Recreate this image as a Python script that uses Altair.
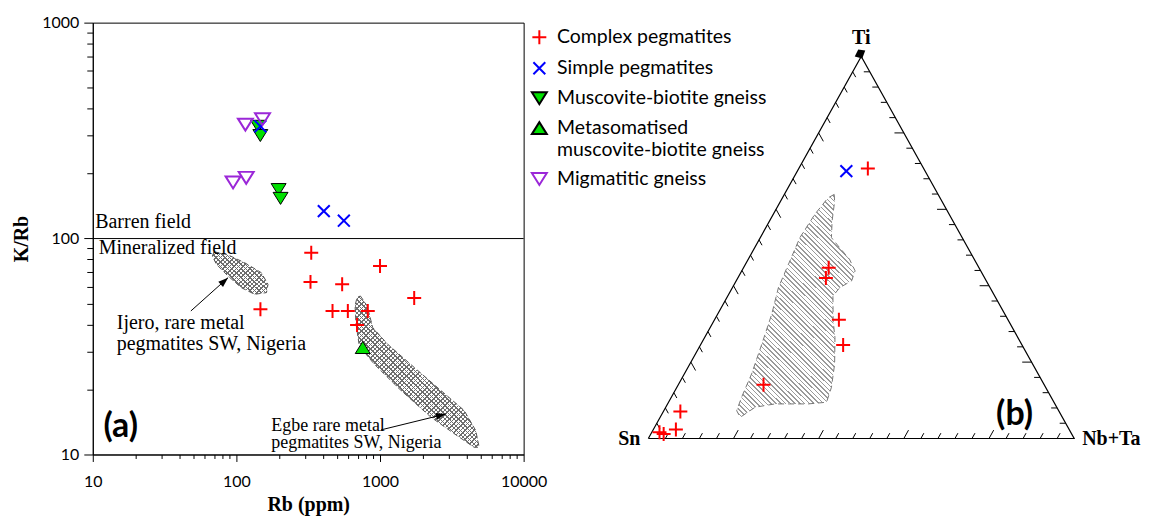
import altair as alt
import pandas as pd

# ---------------- categories ----------------
groups = ["Complex pegmatites", "Simple pegmatites", "Muscovite-biotite gneiss",
          "Metasomatised muscovite-biotite gneiss", "Migmatitic gneiss"]

# ---------------- panel (a): Rb vs K/Rb ----------------
complex_rb = [332, 328, 545, 1000, 1730, 147, 467, 597, 822, 692]
complex_krb = [86, 63, 61.4, 74.6, 53, 47.1, 46.2, 46.2, 46.2, 39.8]
simple_rb = [147, 406, 560]
simple_krb = [331, 134, 121]
musc_rb = [141.6, 146.8, 196.8, 203]
musc_krb = [331, 300, 168.6, 153.5]
meta_rb = [758]
meta_krb = [31.3]
migm_rb = [115.5, 152, 94.8, 117]
migm_krb = [337, 357, 182, 191]

# fields (outlines)
ijero_rb = [70, 87.5, 114, 149, 166, 162, 134, 108, 87.5, 72.6, 68]
ijero_krb = [86.9, 84, 77.3, 69.5, 61.4, 56.2, 55.2, 59.3, 67.1, 76, 83]
egbe_rb = [730, 813, 890, 1130, 1730, 2650, 3850, 4640, 4900, 4520, 3280, 2260, 1400, 912, 718, 681, 670, 692]
egbe_krb = [54.2, 48.8, 38.7, 32.4, 25.3, 19.8, 16, 12.9, 10.8, 10.8, 12.5, 14.9, 19.8, 26.2, 31.8, 40.2, 48.8, 53.3]

# annotations
ann_text = ["Barren field", "Mineralized field", "Ijero, rare metal", "pegmatites SW, Nigeria"]
ann_rb = [10.4, 11.0, 14.7, 14.7]
ann_krb = [112, 85.2, 38.2, 30.45]
egbe_text = ["Egbe rare metal", "pegmatites SW, Nigeria"]
egbe_text_rb = [175, 175]
egbe_text_krb = [12.9, 10.66]
arrow_id = ["ijero", "ijero", "egbe", "egbe"]
arrow_rb = [48.2, 87.5, 1016, 2872]
arrow_krb = [46.2, 65.9, 13.0, 15.4]
arrow_angle = [48, 76]

x_ticks_a = [m * 10 ** e for e in (1, 2, 3) for m in range(1, 10)] + [10000]
y_ticks_a = [m * 10 ** e for e in (1, 2) for m in range(1, 10)] + [1000]

# ---------------- panel (b): Sn - (Nb+Ta) - Ti ternary ----------------
tern_group = ["Simple pegmatites"] + ["Complex pegmatites"] * 10
tern_sn = [0.185, 0.131, 0.353, 0.373, 0.397, 0.420, 0.659, 0.890, 0.924, 0.966, 0.958]
tern_nbta = [0.115, 0.162, 0.200, 0.207, 0.292, 0.335, 0.200, 0.040, 0.053, 0.018, 0.030]
tern_ti = [0.700, 0.707, 0.447, 0.420, 0.311, 0.245, 0.141, 0.0705, 0.0235, 0.0165, 0.012]

region_nbta = [0.117, 0.127, 0.147, 0.167, 0.194, 0.238, 0.266, 0.271, 0.252, 0.247, 0.280, 0.306,
               0.340, 0.363, 0.371, 0.330, 0.252, 0.210, 0.188, 0.171, 0.165, 0.158, 0.143, 0.127,
               0.108, 0.101, 0.093, 0.0975, 0.107]
region_ti = [0.639, 0.621, 0.569, 0.526, 0.504, 0.469, 0.439, 0.413, 0.395, 0.373, 0.308, 0.2645,
             0.195, 0.134, 0.095, 0.0906, 0.0906, 0.082, 0.0556, 0.073, 0.108, 0.169, 0.247, 0.326,
             0.395, 0.456, 0.526, 0.587, 0.630]

# ---------------- styles ----------------
PLUS = "M-1,0H1M0,-1V1"
XMARK = "M-0.85,-0.85L0.85,0.85M-0.85,0.85L0.85,-0.85"
TDOWN = "M-1.07,-0.86L1.07,-0.86L0,0.86Z"
TUP = "M-1.07,0.86L1.07,0.86L0,-0.86Z"
ARROW = "M0,0L-0.7,2L0.7,2Z"
SERIF = "Liberation Serif"
SANS = "Lato"

shape_scale = alt.Scale(domain=groups, range=[PLUS, XMARK, TDOWN, TUP, TDOWN])
stroke_scale = alt.Scale(domain=groups, range=["#ff0000", "#0000ff", "#000000", "#000000", "#9b27d8"])
fill_scale = alt.Scale(domain=groups, range=["transparent", "transparent", "#00e000", "#00e000", "transparent"])

legend = alt.Legend(
    title=None, orient="none", legendX=438, legendY=5, direction="vertical",
    labelFont=SANS, labelFontSize=19.5, labelColor="black", labelLimit=400,
    symbolSize=196, symbolStrokeWidth=2, rowPadding=9, labelOffset=8,
    labelExpr="datum.label == 'Metasomatised muscovite-biotite gneiss' ? ['Metasomatised', 'muscovite-biotite gneiss'] : datum.label",
)


def stripes(n, frac, color, x1, y1, x2, y2):
    stops = []
    clear = "rgba(255,255,255,0)"
    for i in range(n):
        a = i / n
        b = (i + frac) / n
        stops += [{"offset": a, "color": color}, {"offset": b, "color": color},
                  {"offset": b, "color": clear}, {"offset": (i + 1) / n, "color": clear}]
    return {"gradient": "linear", "x1": x1, "y1": y1, "x2": x2, "y2": y2, "stops": stops}


# ---------------- panel (a) chart ----------------
pts_a = pd.DataFrame({
    "Rb": complex_rb + simple_rb + musc_rb + meta_rb + migm_rb,
    "KRb": complex_krb + simple_krb + musc_krb + meta_krb + migm_krb,
    "group": [groups[0]] * len(complex_rb) + [groups[1]] * len(simple_rb) + [groups[2]] * len(musc_rb)
             + [groups[3]] * len(meta_rb) + [groups[4]] * len(migm_rb),
})

xs = alt.Scale(type="log", domain=[10, 10000], nice=False)
ys = alt.Scale(type="log", domain=[10, 1000], nice=False)
major_x = "datum.value == 10 || datum.value == 100 || datum.value == 1000 || datum.value == 10000"
x_axis = alt.Axis(values=x_ticks_a, labelExpr="(" + major_x + ") ? datum.value : ''",
                  tickSize={"condition": {"test": major_x, "value": 7}, "value": 4},
                  labelPadding=12, labelFlush=False, labelOverlap=False, titlePadding=5,
                  grid=False, orient="bottom")
y_axis = alt.Axis(values=y_ticks_a, labelExpr="(" + major_x + ") ? datum.value : ''",
                  tickSize={"condition": {"test": major_x, "value": 9}, "value": 6},
                  labelPadding=5, labelFlush=False, labelOverlap=False, titlePadding=10,
                  grid=False, orient="left")
X = alt.X("Rb:Q", scale=xs, axis=x_axis, title="Rb (ppm)")
Y = alt.Y("KRb:Q", scale=ys, axis=y_axis, title="K/Rb")

hline = alt.Chart(pd.DataFrame({"Rb": [10], "Rb2": [10000], "KRb": [100]})).mark_rule(
    color="black", strokeWidth=1).encode(x=X, x2="Rb2:Q", y=Y)


def field_layers(rb, krb, w, h, n):
    df = pd.DataFrame({"Rb": rb, "KRb": krb, "i": list(range(len(rb)))})
    k = (w + h) / (w * w + h * h)
    g1 = stripes(n, 0.32, "#6e6e6e", 0, 0, w * k, h * k)
    g2 = stripes(n, 0.32, "#6e6e6e", 0, 1, w * k, 1 - h * k)
    base = alt.Chart(df).encode(x=X, y=Y, order="i:Q")
    l1 = base.mark_line(interpolate="linear-closed", fill=g1, strokeOpacity=0)
    l2 = base.mark_line(interpolate="linear-closed", fill=g2, stroke="#555555", strokeWidth=1,
                        strokeDash=[5, 3])
    return [l1, l2]


ijero_layers = field_layers(ijero_rb, ijero_krb, 56, 44, 22)
egbe_layers = field_layers(egbe_rb, egbe_krb, 125, 152, 61)

enc_pts = dict(
    shape=alt.Shape("group:N", scale=shape_scale, legend=legend),
    stroke=alt.Stroke("group:N", scale=stroke_scale, legend=legend),
    fill=alt.Fill("group:N", scale=fill_scale, legend=legend),
)
open_pts = alt.Chart(pts_a).transform_filter(
    alt.FieldOneOfPredicate(field="group", oneOf=[groups[0], groups[1], groups[4]])
).mark_point(size=196, opacity=1, fillOpacity=1, strokeWidth=2).encode(x=X, y=Y, **enc_pts)
filled_pts = alt.Chart(pts_a).transform_filter(
    alt.FieldOneOfPredicate(field="group", oneOf=[groups[2], groups[3]])
).mark_point(size=196, opacity=1, fillOpacity=1, strokeWidth=1).encode(x=X, y=Y, **enc_pts)

ann = alt.Chart(pd.DataFrame({"Rb": ann_rb, "KRb": ann_krb, "t": ann_text})).mark_text(
    font=SERIF, fontSize=20, align="left", baseline="alphabetic", color="black").encode(x=X, y=Y, text="t:N")
ann_egbe = alt.Chart(pd.DataFrame({"Rb": egbe_text_rb, "KRb": egbe_text_krb, "t": egbe_text})).mark_text(
    font=SERIF, fontSize=18, align="left", baseline="alphabetic", color="black").encode(x=X, y=Y, text="t:N")
label_a = alt.Chart(pd.DataFrame({"Rb": [11.86], "KRb": [12.1], "t": ["(a)"]})).mark_text(
    font=SANS, fontSize=34, fontWeight="bold", align="left", baseline="alphabetic", color="black"
).encode(x=X, y=Y, text="t:N")

arr_df = pd.DataFrame({"Rb": arrow_rb, "KRb": arrow_krb, "id": arrow_id, "i": [0, 1, 0, 1]})
arr_lines = alt.Chart(arr_df).mark_line(color="black", strokeWidth=1).encode(
    x=X, y=Y, detail="id:N", order="i:Q")
head_df = pd.DataFrame({"Rb": [arrow_rb[1], arrow_rb[3]], "KRb": [arrow_krb[1], arrow_krb[3]],
                        "ang": arrow_angle})
arr_heads = alt.Chart(head_df).mark_point(shape=ARROW, size=100, filled=True, color="black", opacity=1).encode(
    x=X, y=Y, angle=alt.Angle("ang:Q", scale=None))

left = alt.layer(hline, *ijero_layers, *egbe_layers, arr_lines, arr_heads, ann, ann_egbe, label_a,
                 filled_pts, open_pts).properties(width=432, height=433)

# ---------------- panel (b) chart ----------------
tx_s = alt.Scale(domain=[-0.2764, 1.1546], nice=False, zero=False)
ty_s = alt.Scale(domain=[-0.0418, 1.0887], nice=False, zero=False)
TX = alt.X("tx:Q", scale=tx_s, axis=None)
TY = alt.Y("ty:Q", scale=ty_s, axis=None)
TX2 = alt.X2("tx2:Q")
TY2 = alt.Y2("ty2:Q")
proj = dict(tx="datum.nbta + datum.ti / 2", ty="datum.ti")

tri = alt.Chart(pd.DataFrame({"nbta": [0, 1, 0, 0], "ti": [0, 0, 1, 0], "i": [0, 1, 2, 3]})).transform_calculate(
    **proj).mark_line(color="black", strokeWidth=1.2).encode(x=TX, y=TY, order="i:Q")

tick_rows = []
for k in range(1, 25):
    t = k / 25
    d = 0.022 if k % 5 == 0 else 0.014
    tick_rows.append({"nbta": t, "ti": 0, "nbta2": t, "ti2": d})
    tick_rows.append({"nbta": 0, "ti": t, "nbta2": d, "ti2": t - d})
    tick_rows.append({"nbta": 1 - t, "ti": t, "nbta2": 1 - t - d, "ti2": t})
ticks = alt.Chart(pd.DataFrame(tick_rows)).transform_calculate(
    tx="datum.nbta + datum.ti / 2", ty="datum.ti", tx2="datum.nbta2 + datum.ti2 / 2", ty2="datum.ti2"
).mark_rule(color="black", strokeWidth=1).encode(x=TX, y=TY, x2=TX2, y2=TY2)

rw, rh = 118, 224
rk = (rw + rh) / (rw * rw + rh * rh)
region = alt.Chart(pd.DataFrame({"nbta": region_nbta, "ti": region_ti, "i": list(range(len(region_ti)))})
                   ).transform_calculate(**proj).mark_line(
    interpolate="linear-closed", fill=stripes(72, 0.33, "#9a9a9a", 0, 1, rw * rk, 1 - rh * rk),
    stroke="#777777", strokeWidth=1, strokeDash=[6, 4]).encode(x=TX, y=TY, order="i:Q")

tern_pts = alt.Chart(pd.DataFrame({"sn": tern_sn, "nbta": tern_nbta, "ti": tern_ti, "group": tern_group})
                     ).transform_calculate(**proj).mark_point(
    size=196, opacity=1, fillOpacity=1, strokeWidth=2).encode(x=TX, y=TY, **enc_pts)

apex = alt.Chart(pd.DataFrame({"nbta": [0], "ti": [1]})).transform_calculate(**proj).mark_point(
    shape="M-0.6,-1.4L0.8,-1.2L0.2,0.4L-1.3,0.0Z", size=100, filled=True, color="black", opacity=1
).encode(x=TX, y=TY)

vert = alt.Chart(pd.DataFrame({"nbta": [0, 0, 1], "ti": [1, 0, 0], "t": ["Ti", "Sn", "Nb+Ta"]})
                 ).transform_calculate(**proj)
v_ti = vert.transform_filter("datum.t == 'Ti'").mark_text(
    font=SERIF, fontSize=20, fontWeight="bold", align="center", baseline="alphabetic", dy=-13, color="black"
).encode(x=TX, y=TY, text="t:N")
v_sn = vert.transform_filter("datum.t == 'Sn'").mark_text(
    font=SERIF, fontSize=20, fontWeight="bold", align="right", baseline="middle", dx=-8, color="black"
).encode(x=TX, y=TY, text="t:N")
v_nb = vert.transform_filter("datum.t == 'Nb+Ta'").mark_text(
    font=SERIF, fontSize=20, fontWeight="bold", align="left", baseline="middle", dx=8, color="black"
).encode(x=TX, y=TY, text="t:N")
label_b = alt.Chart(pd.DataFrame({"tx": [0.8167], "ty": [0.0365], "t": ["(b)"]})).mark_text(
    font=SANS, fontSize=34, fontWeight="bold", align="left", baseline="alphabetic", color="black"
).encode(x=TX, y=TY, text="t:N")

right = alt.layer(region, tri, ticks, apex, tern_pts, v_ti, v_sn, v_nb, label_b).properties(
    width=611, height=433, view=alt.ViewBackground(stroke="transparent"))

chart = alt.hconcat(left, right, spacing=7, bounds="flush").properties(
    padding={"left": 3, "top": 5, "right": 0, "bottom": 0}
).configure_view(stroke="black", strokeWidth=1).configure_axis(
    labelFont=SANS, labelFontSize=16, labelColor="black", titleFont=SERIF, titleFontSize=20,
    titleFontWeight="bold", titleColor="black", domainColor="black", tickColor="black"
)

chart.save("out.html", embed_options={"renderer": "svg", "actions": False})
